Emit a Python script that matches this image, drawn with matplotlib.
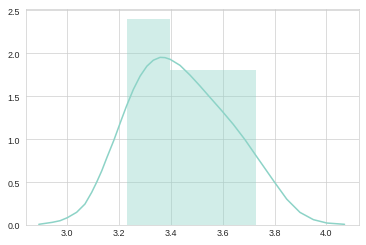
import matplotlib
matplotlib.use("Agg")
import matplotlib.pyplot as plt
import seaborn as sns

# histogram (density)
bin_edges = [3.23, 3.397, 3.563, 3.73]
bin_density = [2.4, 1.8, 1.8]

# kde curve
kde_x = [2.890, 2.942, 2.972, 3.000, 3.036, 3.068, 3.094, 3.113, 3.133, 3.152,
         3.168, 3.180, 3.206, 3.229, 3.255, 3.281, 3.307, 3.332, 3.358, 3.377,
         3.397, 3.435, 3.474, 3.512, 3.544, 3.598, 3.641, 3.686, 3.731, 3.751,
         3.799, 3.847, 3.898, 3.950, 4.002, 4.070]
kde_y = [0.008, 0.031, 0.050, 0.085, 0.148, 0.244, 0.380, 0.497, 0.632, 0.780,
         0.900, 0.990, 1.205, 1.390, 1.580, 1.735, 1.850, 1.920, 1.953, 1.950,
         1.930, 1.860, 1.745, 1.620, 1.510, 1.325, 1.171, 0.993, 0.796, 0.710,
         0.502, 0.301, 0.147, 0.062, 0.023, 0.008]

sns.set_style("whitegrid")
plt.rcParams['font.family'] = ['Liberation Sans', 'DejaVu Sans']

color = "#8dd3c7"

fig = plt.figure(figsize=(6, 246 / 61), dpi=61)
ax = fig.add_axes([26 / 366, 20 / 246, 333.3 / 366, 215.7 / 246])

widths = [b - a for a, b in zip(bin_edges[:-1], bin_edges[1:])]
ax.bar(bin_edges[:-1], bin_density, width=widths, align="edge",
       color=color, alpha=0.4, linewidth=0)
ax.plot(kde_x, kde_y, color=color, lw=1.8, solid_joinstyle="round")

ax.set_xlim(2.8405, 4.127)
ax.set_ylim(0, 2.513)
ax.set_xticks([3.0, 3.2, 3.4, 3.6, 3.8, 4.0])
ax.set_yticks([0.0, 0.5, 1.0, 1.5, 2.0, 2.5])
ax.tick_params(labelsize=10.5, colors="#262626", length=0)
ax.tick_params(axis="x", pad=3.5)
ax.tick_params(axis="y", pad=7)
for s in ax.spines.values():
    s.set_color("#cccccc")

fig.savefig("out.png", dpi=61)
